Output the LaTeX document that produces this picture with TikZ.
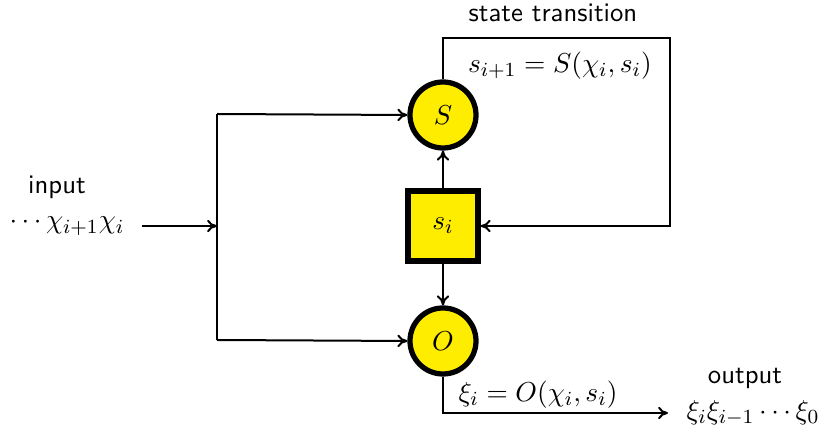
\documentclass[tikz,border=0pt]{standalone}
\usetikzlibrary{arrows.meta}
\definecolor{boxyellow}{RGB}{255,237,0}
\begin{document}
\begin{tikzpicture}[x=0.4pt,y=-0.4pt,
  every node/.style={font=\fontsize{10.8}{13}\selectfont},
  conn/.style={line width=0.8pt,-{To[length=4pt,width=5pt]}},
  line/.style={line width=0.8pt},
  fcirc/.style={circle,draw,line width=2.1pt,fill=boxyellow,minimum size=26.4pt,inner sep=0pt},
  fbox/.style={rectangle,draw,line width=2.1pt,fill=boxyellow,minimum size=28pt,inner sep=0pt},
  lab/.style={font=\fontsize{10.7}{13}\selectfont\sffamily,inner sep=0pt}]
\useasboundingbox (0,0) rectangle (822,431);
\node[fcirc] (S) at (443,115) {$S$};
\node[fbox] (s) at (443,226) {$s_i$};
\node[fcirc] (O) at (443,341) {$O$};
\node[lab] (inlab) at (57,187) {input};
\node[inner sep=0pt] (in) at (67,226) {$\cdots\chi_{i+1}\chi_i$};
\coordinate (instart) at (142,226);
\coordinate (j) at (217,226);
\coordinate (jt) at (217,114);
\coordinate (jb) at (217,340);
\draw[conn] (instart) -- (j);
\draw[line] (jt) -- (jb);
\draw[conn] (jt) -- (S.west);
\draw[conn] (jb) -- (O.west);
\draw[conn] (s.north) -- (S.south);
\draw[conn] (s.south) -- (O.north);
\coordinate (ft) at (670,38);
\coordinate (fb) at (670,226);
\draw[conn] (S.north) |- (ft) -- (fb) -- (s.east);
\node[lab] (st) at (553,13) {state transition};
\node[inner sep=0pt] (seq) at (560,66) {$s_{i+1}=S(\chi_i,s_i)$};
\coordinate (oe) at (668,413);
\draw[conn] (O.south) |- (oe);
\node[inner sep=0pt] (oeq) at (538,395) {$\xi_i=O(\chi_i,s_i)$};
\node[lab] (outlab) at (745,378) {output};
\node[inner sep=0pt] (out) at (753,413) {$\xi_i\xi_{i-1}\cdots\xi_0$};
\end{tikzpicture}
\end{document}
